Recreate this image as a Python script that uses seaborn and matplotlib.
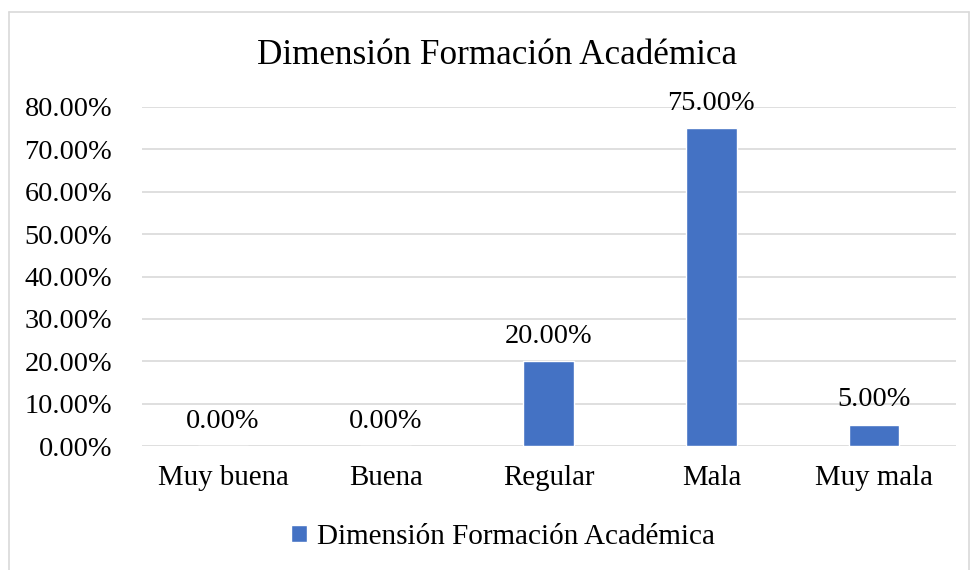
import matplotlib
matplotlib.use("Agg")
import matplotlib.pyplot as plt
import seaborn as sns
import pandas as pd
from matplotlib.lines import Line2D

categories = ["Muy buena", "Buena", "Regular", "Mala", "Muy mala"]
values = [0.0, 0.0, 20.0, 75.0, 5.0]
yticks = [0, 10, 20, 30, 40, 50, 60, 70, 80]
series_name = "Dimensión Formación Académica"
title = "Dimensión Formación Académica"

sns.set_theme(style="white")
FAM = ["Liberation Serif", "DejaVu Serif"]
plt.rcParams["font.family"] = FAM
plt.rcParams["text.color"] = "black"

df = pd.DataFrame({"cat": categories, "val": values})

fig = plt.figure(figsize=(9.71, 5.70), dpi=100)
ax = fig.add_axes([141.5 / 971, 1 - 446 / 570, (955.5 - 141.5) / 971, (446 - 107) / 570])

sns.barplot(data=df, x="cat", y="val", color="#4472C4", width=0.31,
            saturation=1, ax=ax, label=series_name, zorder=3)

ax.set_ylim(0, 80)
ax.set_yticks(yticks)
ax.set_yticklabels([f"{v:.2f}%" for v in yticks])
ax.yaxis.grid(True, color="#D9D9D9", linewidth=1.2, zorder=0)
ax.set_axisbelow(True)
for s in ax.spines.values():
    s.set_visible(False)
ax.tick_params(axis="y", length=0, pad=21, labelsize=20.3, labelcolor="black")
ax.tick_params(axis="x", length=0, pad=14, labelsize=20.8, labelcolor="black")
ax.set_xlabel("")
ax.set_ylabel("")

for c in ax.containers:
    ax.bar_label(c, labels=[f"{v:.2f}%" for v in values], padding=9, fontsize=20.3,
                 color="black", family=FAM)

handles, labels = ax.get_legend_handles_labels()
if ax.get_legend() is not None:
    ax.get_legend().remove()
fig.legend(handles, labels, loc="center", bbox_to_anchor=(503 / 971, 1 - 537 / 570),
           frameon=False, prop={"family": FAM, "size": 21.0}, handlelength=0.55,
           handleheight=0.55, handletextpad=0.35, borderpad=0, labelcolor="black")

fig.text(497 / 971, 1 - 56 / 570, title, ha="center", va="center", fontsize=25.3,
         color="black", family=FAM)

# chart area border
bc = "#D9D9D9"
fig.add_artist(Line2D([9 / 971, 9 / 971], [0, 1 - 12 / 570], transform=fig.transFigure, color=bc, lw=1.2))
fig.add_artist(Line2D([9 / 971, 969 / 971], [1 - 12 / 570, 1 - 12 / 570], transform=fig.transFigure, color=bc, lw=1.2))
fig.add_artist(Line2D([969 / 971, 969 / 971], [0, 1 - 12 / 570], transform=fig.transFigure, color=bc, lw=1.2))

fig.savefig("out.png", dpi=100, facecolor="white")
